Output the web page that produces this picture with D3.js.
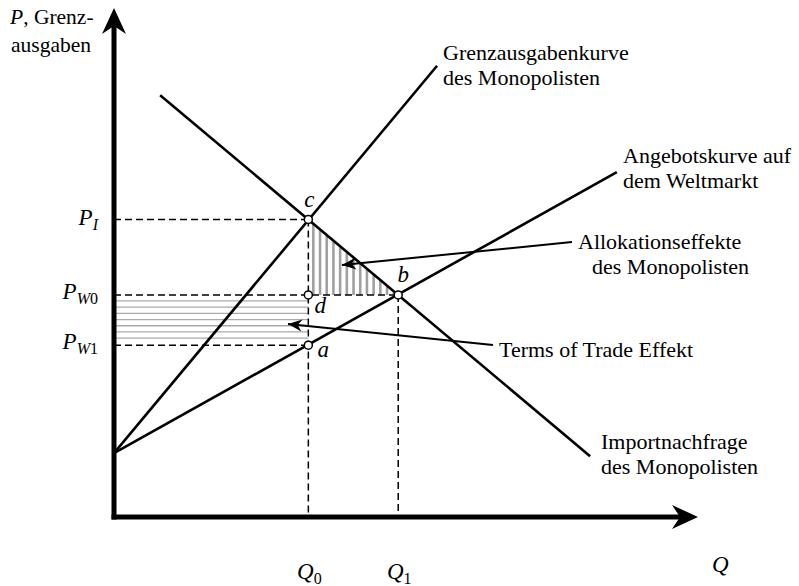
<!DOCTYPE html>
<html lang="de">
<head>
<meta charset="UTF-8">
<title>Monopson Importzoll</title>
<script src="https://d3js.org/d3.v7.min.js"></script>
<style>
  body { margin: 0; background: #fff; }
  text { font-family: "Liberation Serif", "Times New Roman", serif; fill: #000; }
  .math { font-style: italic; }
  .up { font-style: normal; }
</style>
</head>
<body>
<svg id="chart" width="799" height="586"></svg>
<script>
// --- data (abstract units) ---
var quantities = { Q0: 4.0, Q1: 5.85 };
var prices = { PI: 5.87, PW0: 4.38, PW1: 3.39 };
var mcCurve = [[0, 1.26], [6.65, 8.90]];        // Grenzausgabenkurve
var supplyCurve = [[0, 1.26], [10.35, 6.80]];   // Angebotskurve Weltmarkt
var demandCurve = [[0.95, 8.32], [9.80, 1.20]]; // Importnachfrage
var pointNames = ["c", "b", "d", "a"];
var pointValues = [[4.0, 5.87], [5.85, 4.38], [4.0, 4.38], [4.0, 3.39]];

var svg = d3.select("#chart");

var x = d3.scaleLinear().domain([0, 12]).range([114, 697]);
var y = d3.scaleLinear().domain([0, 10]).range([517, 10]);

var line = d3.line()
    .x(function (d) { return x(d[0]) })
    .y(function (d) { return y(d[1]) });

// demand line value at a given quantity
function demandAt(q) {
    var p0 = demandCurve[0], p1 = demandCurve[1];
    return p0[1] + (p1[1] - p0[1]) * (q - p0[0]) / (p1[0] - p0[0]);
}

// hatched area: terms of trade effect (horizontal lines)
var hatchH = svg.append("g").attr("stroke", "#aaa").attr("stroke-width", 1.3);
d3.range(y(prices.PW0) + 6, y(prices.PW1) - 2, 6.2).forEach(function (py) {
    hatchH.append("line")
        .attr("x1", x(0)).attr("x2", x(quantities.Q0))
        .attr("y1", py).attr("y2", py);
});

// hatched area: allocation effect (vertical lines under demand)
var hatchV = svg.append("g").attr("stroke", "#a0a0a0").attr("stroke-width", 2.6);
d3.range(x(quantities.Q0) + 5, x(quantities.Q1) - 4, 6.7).forEach(function (px) {
    var q = x.invert(px);
    hatchV.append("line")
        .attr("x1", px).attr("x2", px)
        .attr("y1", y(prices.PW0)).attr("y2", y(demandAt(q)) + 1);
});

// dashed guide lines
var dash = svg.append("g")
    .attr("stroke", "#000")
    .attr("stroke-width", 1.5)
    .attr("stroke-dasharray", "7,4")
    .attr("fill", "none");
dash.append("line").attr("x1", x(0)).attr("x2", x(quantities.Q0)).attr("y1", y(prices.PI)).attr("y2", y(prices.PI));
dash.append("line").attr("x1", x(0)).attr("x2", x(quantities.Q1)).attr("y1", y(prices.PW0)).attr("y2", y(prices.PW0));
dash.append("line").attr("x1", x(0)).attr("x2", x(quantities.Q0)).attr("y1", y(prices.PW1)).attr("y2", y(prices.PW1));
dash.append("line").attr("x1", x(quantities.Q0)).attr("x2", x(quantities.Q0)).attr("y1", y(prices.PI)).attr("y2", y(0));
dash.append("line").attr("x1", x(quantities.Q1)).attr("x2", x(quantities.Q1)).attr("y1", y(prices.PW0)).attr("y2", y(0));

// curves
svg.selectAll("path.curve")
    .data([mcCurve, supplyCurve, demandCurve])
    .enter()
    .append("path")
    .attr("class", "curve")
    .attr("d", line)
    .attr("stroke", "#000")
    .attr("stroke-width", 2.6)
    .attr("fill", "none");

// axes
svg.append("line")
    .attr("x1", x(0)).attr("x2", x(0))
    .attr("y1", y(0) + 2.5).attr("y2", 22)
    .attr("stroke", "#000").attr("stroke-width", 5);
svg.append("line")
    .attr("x1", x(0) - 2.5).attr("x2", 685)
    .attr("y1", y(0)).attr("y2", y(0))
    .attr("stroke", "#000").attr("stroke-width", 5);
// arrow heads
var ax = x(0), ay = y(0);
svg.append("path")
    .attr("d", "M" + ax + ",8 L" + (ax + 12) + ",34 L" + ax + ",26 L" + (ax - 12) + ",34 Z")
    .attr("fill", "#000");
svg.append("path")
    .attr("d", "M698," + ay + " L672," + (ay - 12) + " L680," + ay + " L672," + (ay + 12) + " Z")
    .attr("fill", "#000");

// annotation arrows
function arrow(x1, y1, x2, y2) {
    svg.append("line")
        .attr("x1", x1).attr("y1", y1).attr("x2", x2).attr("y2", y2)
        .attr("stroke", "#000").attr("stroke-width", 2);
    var ang = Math.atan2(y2 - y1, x2 - x1);
    var L = 14, W = 6;
    var bx = x2 - L * Math.cos(ang), by = y2 - L * Math.sin(ang);
    var nx = -Math.sin(ang), ny = Math.cos(ang);
    var mx = x2 - L * 0.7 * Math.cos(ang), my = y2 - L * 0.7 * Math.sin(ang);
    svg.append("path")
        .attr("d", "M" + x2 + "," + y2 +
            " L" + (bx + nx * W) + "," + (by + ny * W) +
            " L" + mx + "," + my +
            " L" + (bx - nx * W) + "," + (by - ny * W) + " Z")
        .attr("fill", "#000");
}
arrow(572, 242, 342, 265);
arrow(493, 345, 288, 324);

// points
svg.selectAll("circle.pt")
    .data(pointValues)
    .enter()
    .append("circle")
    .attr("class", "pt")
    .attr("cx", function (d) { return x(d[0]) })
    .attr("cy", function (d) { return y(d[1]) })
    .attr("r", 4)
    .attr("fill", "#fff")
    .attr("stroke", "#000")
    .attr("stroke-width", 1.5);

// point labels
var ptOffsets = [[1, -12], [5, -13], [12, 18], [15, 12]];
svg.selectAll("text.ptlab")
    .data(pointValues)
    .enter()
    .append("text")
    .attr("class", "ptlab math")
    .attr("x", function (d, i) { return x(d[0]) + ptOffsets[i][0] })
    .attr("y", function (d, i) { return y(d[1]) + ptOffsets[i][1] })
    .attr("text-anchor", "middle")
    .style("font-size", "23px")
    .text(function (d, i) { return pointNames[i] });

// axis labels with subscripts (letters italic, digits upright)
function subLabel(px, py, main, sub, anchor) {
    var t = svg.append("text")
        .attr("class", "math")
        .attr("x", px).attr("y", py)
        .attr("text-anchor", anchor)
        .style("font-size", "23px");
    t.append("tspan").text(main);
    sub.split("").forEach(function (ch, i) {
        t.append("tspan")
            .attr("dy", i == 0 ? 5 : 0)
            .attr("class", /[0-9]/.test(ch) ? "up" : null)
            .style("font-size", "16px")
            .text(ch);
    });
}
subLabel(98, y(prices.PI) + 6, "P", "I", "end");
subLabel(98, y(prices.PW0) + 4, "P", "W0", "end");
subLabel(98, y(prices.PW1) + 4, "P", "W1", "end");
subLabel(x(quantities.Q0) + 1, 579, "Q", "0", "middle");
subLabel(x(quantities.Q1) + 1, 579, "Q", "1", "middle");

svg.append("text").attr("class", "math").attr("x", 712).attr("y", 572)
    .style("font-size", "23px").text("Q");

var yTitle = svg.append("text").attr("x", 10).attr("y", 24).style("font-size", "21.5px");
yTitle.append("tspan").attr("class", "math").text("P");
yTitle.append("tspan").text(", Grenz-");
svg.append("text").attr("x", 11).attr("y", 52).style("font-size", "21.5px").text("ausgaben");

// curve and effect labels
var notes = [
    { x: 443, y: 60, lines: ["Grenzausgabenkurve", "des Monopolisten"] },
    { x: 623, y: 163, lines: ["Angebotskurve auf", "dem Weltmarkt"] },
    { x: 578, y: 249, lines: ["Allokationseffekte", "des Monopolisten"], second: 592 },
    { x: 499, y: 357, lines: ["Terms of Trade Effekt"] },
    { x: 601, y: 449, lines: ["Importnachfrage", "des Monopolisten"] }
];
notes.forEach(function (n) {
    n.lines.forEach(function (s, i) {
        svg.append("text")
            .attr("x", i == 1 && n.second ? n.second : n.x)
            .attr("y", n.y + i * 24.5)
            .style("font-size", "22px")
            .text(s);
    });
});
</script>
</body>
</html>
